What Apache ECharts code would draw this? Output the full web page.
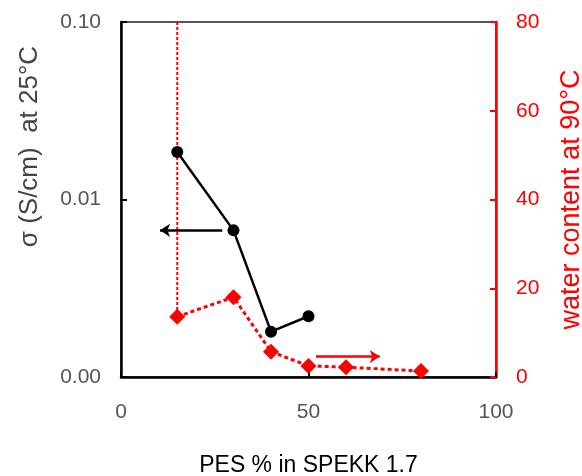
<!DOCTYPE html>
<html>
<head>
<meta charset="utf-8">
<script src="https://cdn.jsdelivr.net/npm/echarts@6/dist/echarts.min.js"></script>
<style>
  html, body { margin: 0; padding: 0; background: #fff; }
  #chart { width: 582px; height: 476px; }
</style>
</head>
<body>
<div id="chart"></div>
<script>
// PES content (%) of the blends
const pesSigma = [15, 30, 40, 50];
// proton conductivity at 25 °C (S/cm)
const sigma = [0.0185, 0.0067, 0.0018, 0.0022];

const pesWater = [15, 30, 40, 50, 60, 80];
// water uptake at 90 °C (%)
const water = [13.6, 18.0, 5.7, 2.5, 2.2, 1.35];

// dotted guide above the first water point
const guideX = [15, 15];
const guideY = [80, 13.6];

// arrows telling which axis each curve belongs to
const sigmaArrowX = [27, 10.4];
const sigmaArrowY = [0.0067, 0.0067];
const waterArrowX = [52, 69];
const waterArrowY = [4.6, 4.6];

const xTicks = [0, 50, 100];
const waterTicks = [0, 20, 40, 60, 80];

const font = 'Liberation Sans, Arial, sans-serif';
const grey = '#555555';
const red = '#ff0000';

const chart = echarts.init(document.getElementById('chart'), null, { renderer: 'canvas' });

chart.setOption({
  animation: false,
  backgroundColor: '#ffffff',
  grid: {
    left: 121, right: 86, top: 22, bottom: 99,
    outerBoundsMode: 'none',
    containLabel: false,
    show: true, borderColor: '#222', borderWidth: 1.5, backgroundColor: 'transparent'
  },
  xAxis: {
    type: 'value',
    min: xTicks[0], max: xTicks[xTicks.length - 1], interval: 50,
    name: 'PES % in SPEKK 1.7',
    nameLocation: 'middle',
    nameGap: 77,
    nameTextStyle: { color: '#000', fontFamily: font, fontSize: 23 },
    axisLine: { lineStyle: { color: '#000', width: 2.5 } },
    axisTick: { inside: true, length: 5, lineStyle: { color: '#000', width: 2 } },
    axisLabel: { margin: 25, color: grey, fontFamily: font, fontSize: 21 },
    splitLine: { show: false }
  },
  yAxis: [
    {
      type: 'log',
      logBase: 10,
      min: 0.001, max: 0.1,
      name: 'σ (S/cm)  at 25°C',
      nameLocation: 'middle',
      nameRotate: 90,
      nameGap: 78,
      // the title sits above the axis middle
      nameTextStyle: { color: '#444', fontFamily: font, fontSize: 26, padding: [0, 0, 0, 106] },
      axisLine: { show: true, lineStyle: { color: '#000', width: 2.5 } },
      axisTick: { show: true, inside: true, length: 6, lineStyle: { color: '#000', width: 2 } },
      axisLabel: {
        margin: 20, color: grey, fontFamily: font, fontSize: 21,
        formatter: v => v.toFixed(2)
      },
      minorTick: { show: false },
      splitLine: { show: false }
    },
    {
      type: 'value',
      position: 'right',
      min: waterTicks[0], max: waterTicks[waterTicks.length - 1], interval: 20,
      name: 'water content at 90°C',
      nameLocation: 'middle',
      nameRotate: 90,
      nameGap: 62,
      nameTextStyle: { color: red, fontFamily: font, fontSize: 27 },
      axisLine: { show: true, lineStyle: { color: red, width: 2.5 } },
      axisTick: { show: true, inside: true, length: 6, lineStyle: { color: red, width: 2 } },
      axisLabel: { margin: 20, color: red, fontFamily: font, fontSize: 21 },
      splitLine: { show: false }
    }
  ],
  series: [
    {
      name: 'guide',
      type: 'line',
      yAxisIndex: 1,
      data: guideX.map((x, i) => [x, guideY[i]]),
      symbol: 'none',
      lineStyle: { color: red, width: 2, type: [3, 2] },
      z: 1
    },
    {
      name: 'water',
      type: 'line',
      yAxisIndex: 1,
      data: pesWater.map((x, i) => [x, water[i]]),
      symbol: 'diamond',
      symbolSize: 16,
      itemStyle: { color: red },
      lineStyle: { color: red, width: 3, type: [4, 3] },
      z: 2
    },
    {
      name: 'sigma',
      type: 'line',
      yAxisIndex: 0,
      data: pesSigma.map((x, i) => [x, sigma[i]]),
      symbol: 'circle',
      symbolSize: 12,
      itemStyle: { color: '#000' },
      lineStyle: { color: '#000', width: 2.5 },
      z: 3
    },
    {
      name: 'sigmaArrow',
      type: 'lines',
      coordinateSystem: 'cartesian2d',
      yAxisIndex: 0,
      symbol: ['none', 'arrow'],
      symbolSize: 10,
      lineStyle: { color: '#000', width: 2.5, opacity: 1 },
      data: [{ coords: sigmaArrowX.map((x, i) => [x, sigmaArrowY[i]]) }],
      z: 4
    },
    {
      name: 'waterArrow',
      type: 'lines',
      coordinateSystem: 'cartesian2d',
      yAxisIndex: 1,
      symbol: ['none', 'arrow'],
      symbolSize: 10,
      lineStyle: { color: red, width: 2.5, opacity: 1 },
      data: [{ coords: waterArrowX.map((x, i) => [x, waterArrowY[i]]) }],
      z: 4
    }
  ]
});
</script>
</body>
</html>
